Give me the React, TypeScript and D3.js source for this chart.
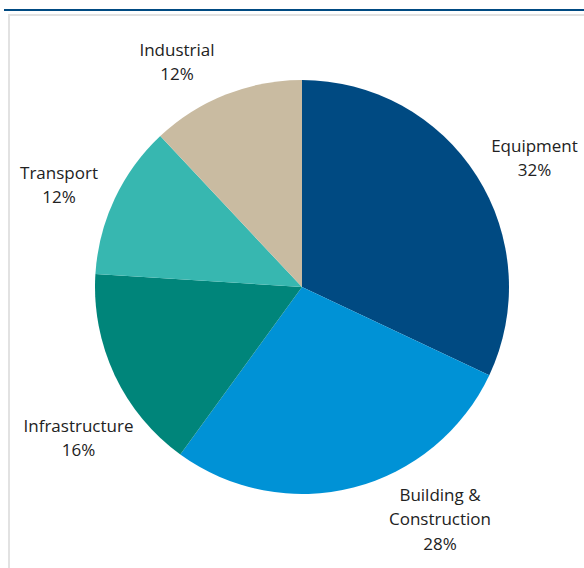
import React from "react";
import * as d3 from "d3";

const categories = ["Equipment", "Building & Construction", "Infrastructure", "Transport", "Industrial"];
const values = [32, 28, 16, 12, 12];
const labelLines = [["Equipment", "32%"], ["Building &", "Construction", "28%"], ["Infrastructure", "16%"], ["Transport", "12%"], ["Industrial", "12%"]];
const colors = ["#004a82", "#0092d6", "#00857a", "#37b7b0", "#c9bba1"];

// layout: label anchor (center x, first baseline y) in page pixels
const labelAnchors: [number, number][] = [[534.5, 152], [440, 501], [78.5, 432], [59, 179], [177, 56]];

export default function App() {
  const W = 584, H = 568;
  const cx = 302, cy = 287, r = 207;
  const data = categories.map((c, i) => ({ c, v: values[i], i }));
  const pie = d3.pie<any>().value((d) => d.v).sort(null);
  const arcs = pie(data);
  const arc = d3.arc<any>().innerRadius(0).outerRadius(r);
  const lh = 24.3;
  return (
    <svg width={W} height={H} style={{ position: "absolute", left: 0, top: 0 }} fontFamily="'Open Sans', sans-serif">
      <rect x={0} y={0} width={W} height={H} fill="#fff" />
      <line x1={4} x2={W} y1={10} y2={10} stroke="#004a82" strokeWidth={2} />
      <rect x={9} y={15} width={W + 10} height={H} fill="none" stroke="#e2e2e2" strokeWidth={2} />
      <g transform={`translate(${cx},${cy})`}>
        {arcs.map((a, i) => (
          <path key={i} d={arc(a) as string} fill={colors[i]} />
        ))}
      </g>
      {arcs.map((a, i) => {
        const [x, y] = labelAnchors[i];
        const lines = labelLines[i];
        return (
          <text key={"t" + i} textAnchor="middle" fontSize={17} fill="#222">
            {lines.map((l, j) => (
              <tspan key={j} x={x} y={y + j * lh}>{l}</tspan>
            ))}
          </text>
        );
      })}
    </svg>
  );
}
